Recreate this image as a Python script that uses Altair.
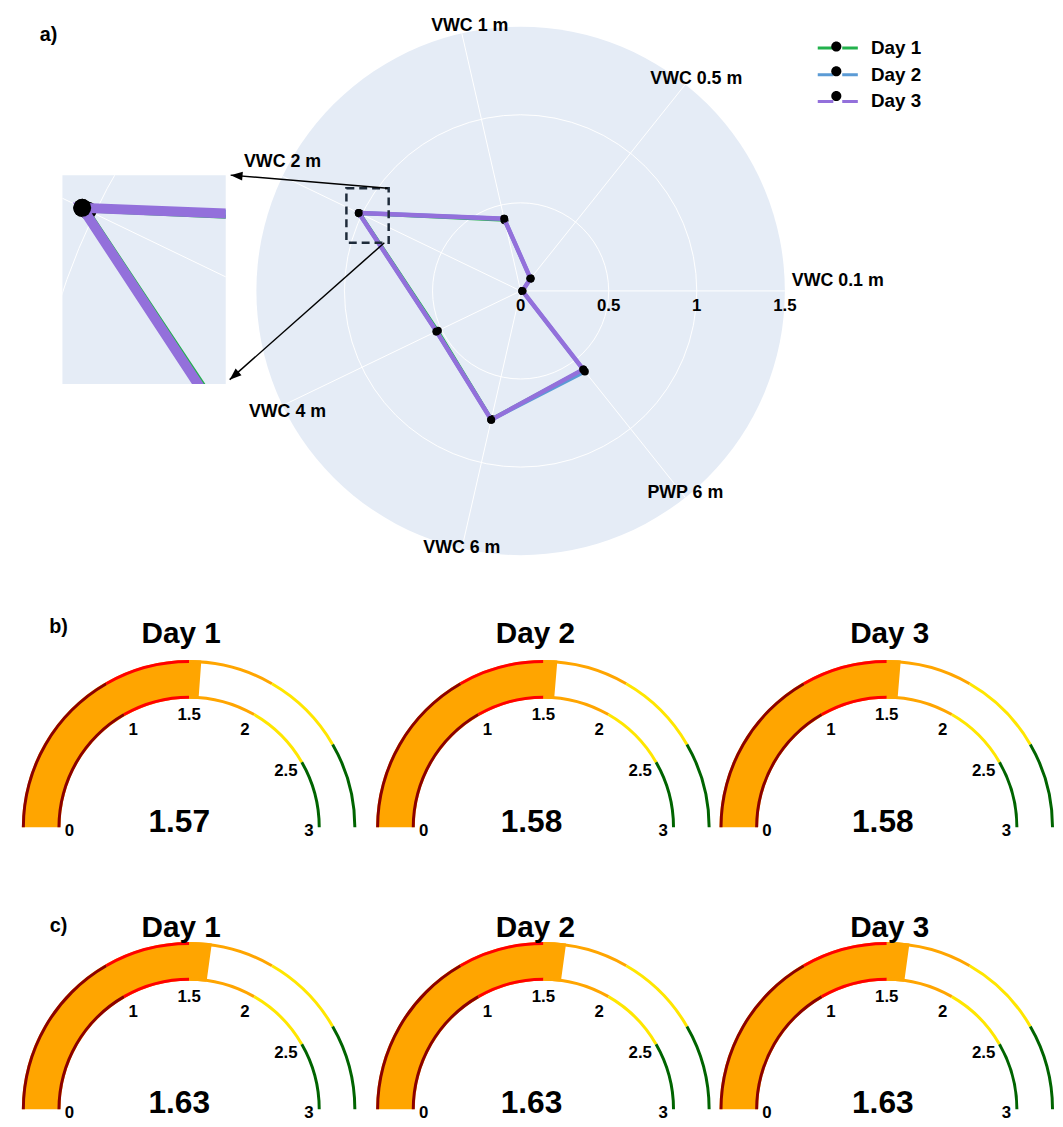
import math
import pandas as pd
import altair as alt

FONT = "Liberation Sans"
TAU = 2 * math.pi

# ---------------- data ----------------
categories = ["VWC 0.1 m", "VWC 0.5 m", "VWC 1 m", "VWC 2 m", "VWC 4 m", "VWC 6 m", "PWP 6 m"]
days = ["Day 1", "Day 2", "Day 3"]
day1_values = [0.01, 0.09, 0.411, 1.011, 0.521, 0.745, 0.57]
day2_values = [0.01, 0.09, 0.42, 1.02, 0.53, 0.75, 0.585]
day3_values = [0.01, 0.09, 0.42, 1.02, 0.53, 0.75, 0.57]
day_colors = ["#22B14C", "#5B9BD5", "#9370DB"]
r_max = 1.5
grid_radii = [0.5, 1.0]
radial_ticks = [0, 0.5, 1, 1.5]
radial_tick_labels = ["0", "0.5", "1", "1.5"]

# zoom box and arrows (polar data units)
box_x1 = [-0.989]
box_y1 = [0.583]
box_x2 = [-0.749]
box_y2 = [0.274]
arrow_x1 = [-0.7545, -0.7736]
arrow_y1 = [0.5826, 0.2736]
arrow_x2 = [-1.6461, -1.6517]
arrow_y2 = [0.6573, -0.5039]

gauge_days = ["Day 1", "Day 2", "Day 3"]
gauge_b_values = [1.57, 1.58, 1.58]
gauge_c_values = [1.63, 1.63, 1.63]
gauge_max = 3
step_bounds = [0, 1, 1.5, 2, 2.5, 3]
step_colors = ["#8B0000", "#FF0000", "#FFA500", "#FFE600", "#006400"]
gauge_ticks = [0, 1, 1.5, 2, 2.5, 3]
gauge_tick_labels = ["0", "1", "1.5", "2", "2.5", "3"]

# label placement styles (align, dx, dy) for the angular labels
LABEL_STYLE = {
    "VWC 0.1 m": ("left", 7, -10),
    "VWC 0.5 m": ("center", 11, -5),
    "VWC 1 m": ("center", 8, -7),
    "VWC 2 m": ("center", 0, -14),
    "VWC 4 m": ("center", 5, 7),
    "VWC 6 m": ("center", 0, 0),
    "PWP 6 m": ("center", 0, -4),
}

# ---------------- tables ----------------
n_cat = len(categories)
ANG = f"datum.idx * 2 * PI / {n_cat}"
cat_df = pd.DataFrame({"cat": categories, "idx": list(range(n_cat))})
rows = []
for d, vals in zip(days, [day1_values, day2_values, day3_values]):
    for i, (c, v) in enumerate(zip(categories, vals)):
        rows.append({"day": d, "cat": c, "idx": i, "value": v})
series_df = pd.DataFrame(rows)
box_df = pd.DataFrame({"x1": box_x1, "y1": box_y1, "x2": box_x2, "y2": box_y2})
arrow_df = pd.DataFrame({"x1": arrow_x1, "y1": arrow_y1, "x2": arrow_x2, "y2": arrow_y2})

PX_MAIN = 178.0
INSET_MAG = 3.85

LINE_PATH = "M-1.35,0H-0.3M0.3,0H1.35"
DOT_PATH = "M0.34,0A0.34,0.34,0,1,1,-0.34,0A0.34,0.34,0,1,1,0.34,0Z"
ARROW_PATH = "M0,0L0.9,2.4L-0.9,2.4Z"
LEG_X, LEG_Y = 600, 17


def polar_chart(xdom, ydom, w, h, ppu, clip, widths, pt_size, main):
    xs = alt.Scale(domain=xdom, nice=False, zero=False)
    ys = alt.Scale(domain=ydom, nice=False, zero=False)
    rs = alt.Scale(type="linear", domain=[0, r_max], range=[0, r_max * ppu], nice=False)

    def X(f):
        return alt.X(f, scale=xs, axis=None)

    def Y(f):
        return alt.Y(f, scale=ys, axis=None)

    disc = (
        alt.Chart(pd.DataFrame({"r": [r_max]}))
        .transform_calculate(cx="0", cy="0")
        .mark_arc(fill="#E5ECF6", clip=clip)
        .encode(x=X("cx:Q"), y=Y("cy:Q"), radius=alt.Radius("r:Q", scale=rs, stack=None),
                theta=alt.value(0), theta2=alt.value(TAU))
    )
    grid = (
        alt.Chart(pd.DataFrame({"r": grid_radii}))
        .transform_calculate(cx="0", cy="0")
        .mark_arc(fill="transparent", stroke="white", strokeWidth=1, clip=clip)
        .encode(x=X("cx:Q"), y=Y("cy:Q"), radius=alt.Radius("r:Q", scale=rs, stack=None),
                theta=alt.value(0), theta2=alt.value(TAU))
    )
    spokes = (
        alt.Chart(cat_df)
        .transform_calculate(ang=ANG)
        .transform_calculate(cx="0", cy="0", ex=f"{r_max}*cos(datum.ang)", ey=f"{r_max}*sin(datum.ang)")
        .mark_rule(color="white", strokeWidth=1, clip=clip)
        .encode(x=X("cx:Q"), y=Y("cy:Q"), x2="ex:Q", y2="ey:Q")
    )
    layers = [disc, grid, spokes]

    line_legend = alt.Legend(
        orient="none", legendX=LEG_X, legendY=LEG_Y, title=None,
        symbolType=LINE_PATH, symbolSize=900, symbolStrokeWidth=3,
        labelFont=FONT, labelFontSize=19, labelFontWeight="bold", labelColor="black",
        labelOffset=17, rowPadding=0, padding=0,
    )
    dot_legend = alt.Legend(
        orient="none", legendX=LEG_X, legendY=LEG_Y, title=None,
        symbolType=DOT_PATH, symbolSize=900, symbolStrokeWidth=0,
        labelFont=FONT, labelFontSize=19, labelExpr="''",
        labelOffset=17, rowPadding=0, padding=0,
    )
    for d, col, wdt in zip(days, day_colors, widths):
        base = (
            alt.Chart(series_df)
            .transform_filter(alt.datum.day == d)
            .transform_calculate(ang=ANG)
            .transform_calculate(px="datum.value*cos(datum.ang)", py="datum.value*sin(datum.ang)")
        )
        if main:
            line = base.mark_line(interpolate="linear-closed", strokeWidth=wdt).encode(
                x=X("px:Q"), y=Y("py:Q"),
                color=alt.Color("day:N", scale=alt.Scale(domain=days, range=day_colors), legend=line_legend),
                order="idx:Q",
            )
            pts = base.mark_circle(size=pt_size, opacity=1).encode(
                x=X("px:Q"), y=Y("py:Q"),
                fill=alt.Fill("day:N", scale=alt.Scale(domain=days[::-1], range=["black"] * len(days)),
                              legend=dot_legend),
            )
        else:
            line = base.mark_line(interpolate="linear-closed", strokeWidth=wdt, color=col, clip=clip).encode(
                x=X("px:Q"), y=Y("py:Q"), order="idx:Q",
            )
            pts = base.mark_circle(color="black", size=pt_size, opacity=1, clip=clip).encode(
                x=X("px:Q"), y=Y("py:Q")
            )
        layers += [line, pts]

    if main:
        for cat in categories:
            al, ddx, ddy = LABEL_STYLE[cat]
            lab = (
                alt.Chart(cat_df)
                .transform_filter(alt.datum.cat == cat)
                .transform_calculate(ang=ANG)
                .transform_calculate(tx=f"{r_max}*cos(datum.ang)", ty=f"{r_max}*sin(datum.ang)")
                .mark_text(font=FONT, fontSize=18, fontWeight="bold", color="black",
                           align=al, dx=ddx, dy=ddy)
                .encode(x=X("tx:Q"), y=Y("ty:Q"), text="cat:N")
            )
            layers.append(lab)
        rticks = (
            alt.Chart(pd.DataFrame({"t": radial_ticks, "lab": radial_tick_labels}))
            .transform_calculate(zero="0")
            .mark_text(font=FONT, fontSize=17, fontWeight="bold", color="black", dy=15)
            .encode(x=X("t:Q"), y=Y("zero:Q"), text="lab:N")
        )
        box = (
            alt.Chart(box_df)
            .mark_rect(fill="transparent", stroke="#1E2B3A", strokeWidth=2.5, strokeDash=[8, 5])
            .encode(x=X("x1:Q"), y=Y("y1:Q"), x2="x2:Q", y2="y2:Q")
        )
        arrows = (
            alt.Chart(arrow_df)
            .mark_rule(color="black", strokeWidth=1.5)
            .encode(x=X("x1:Q"), y=Y("y1:Q"), x2="x2:Q", y2="y2:Q")
        )
        heads = (
            alt.Chart(arrow_df)
            .transform_calculate(ang="(atan2(datum.x2 - datum.x1, datum.y2 - datum.y1) * 180 / PI + 360) % 360")
            .mark_point(shape=ARROW_PATH, filled=True, color="black", size=100, opacity=1)
            .encode(x=X("x2:Q"), y=Y("y2:Q"), angle=alt.Angle("ang:Q", scale=None))
        )
        layers += [rticks, box, arrows, heads]
    return alt.layer(*layers).properties(width=w, height=h)


def blank(w, h):
    return (
        alt.Chart(pd.DataFrame({"v": [0]}))
        .mark_rect(opacity=0)
        .encode(x=alt.value(0), x2=alt.value(1), y=alt.value(0), y2=alt.value(1))
        .properties(width=w, height=h)
    )


# ---- main polar (view starts at page x 225, y 8; centre at page 521,287) ----
PW, PH = 830, 592
CX, CY = 296, 279
main_xdom = [-CX / PX_MAIN, (PW - CX) / PX_MAIN]
main_ydom = [-(PH - CY) / PX_MAIN, CY / PX_MAIN]
polar_main = polar_chart(main_xdom, main_ydom, PW, PH, PX_MAIN, False, [3, 4, 4.5], 64, True)

# ---- inset (magnified around the VWC 2 m point) ----
IW, IH = 165, 211
ippu = PX_MAIN * INSET_MAG
ang2 = 3 * TAU / n_cat
xd = day3_values[3] * math.cos(ang2)
yd = day3_values[3] * math.sin(ang2)
inset_xdom = [xd - 20 / ippu, xd + (IW - 20) / ippu]
inset_ydom = [yd - (IH - 33) / ippu, yd + 33 / ippu]
inset = polar_chart(inset_xdom, inset_ydom, IW, IH, ippu, True, [4, 7, 10], 330, False)

a_chart = (
    alt.Chart(pd.DataFrame({"t": ["a)"]}))
    .mark_text(font=FONT, fontSize=20, fontWeight="bold", color="black")
    .encode(text="t:N", x=alt.value(40), y=alt.value(20))
    .properties(width=217, height=160)
)
inset_row = alt.hconcat(blank(52, IH), inset, spacing=0)
left_block = alt.vconcat(a_chart, inset_row, spacing=0)
top_row = (
    alt.hconcat(left_block, polar_main, spacing=0)
    .resolve_scale(color="independent", fill="independent")
    .resolve_legend(color="independent", fill="independent")
)


# ---------------- gauges ----------------
def gauge(day, value, w, gx, gy, h, tx, title_y, vx, val_y, row_label=None, label_y=25):
    th = alt.Scale(domain=[0, gauge_max], range=[-math.pi / 2, math.pi / 2], nice=False, zero=False)
    cx, cy = alt.value(gx), alt.value(gy)
    steps_df = pd.DataFrame({"lo": step_bounds[:-1], "hi": step_bounds[1:], "c": step_colors})
    tick_df = pd.DataFrame({"t": gauge_ticks, "lab": gauge_tick_labels})
    bar = (
        alt.Chart(pd.DataFrame({"lo": [0], "hi": [value]}))
        .mark_arc(innerRadius=130, outerRadius=169, color="#FFA500")
        .encode(theta=alt.Theta("lo:Q", scale=th, stack=None), theta2="hi:Q", x=cx, y=cy)
    )
    outer = (
        alt.Chart(steps_df)
        .mark_arc(innerRadius=166, outerRadius=169)
        .encode(theta=alt.Theta("lo:Q", scale=th, stack=None), theta2="hi:Q",
                color=alt.Color("c:N", scale=None), x=cx, y=cy)
    )
    inner = (
        alt.Chart(steps_df)
        .mark_arc(innerRadius=130, outerRadius=133)
        .encode(theta=alt.Theta("lo:Q", scale=th, stack=None), theta2="hi:Q",
                color=alt.Color("c:N", scale=None), x=cx, y=cy)
    )
    ticks_mid = (
        alt.Chart(tick_df)
        .transform_filter(f"datum.t > 0 && datum.t < {gauge_max}")
        .mark_text(radius=113, font=FONT, fontSize=17, fontWeight="bold", color="black")
        .encode(theta=alt.Theta("t:Q", scale=th, stack=None), text="lab:N", x=cx, y=cy)
    )
    ticks_end = (
        alt.Chart(tick_df)
        .transform_filter(f"datum.t == 0 || datum.t == {gauge_max}")
        .mark_text(radius=121, font=FONT, fontSize=17, fontWeight="bold", color="black", dy=4)
        .encode(theta=alt.Theta("t:Q", scale=th, stack=None), text="lab:N", x=cx, y=cy)
    )
    val = (
        alt.Chart(pd.DataFrame({"v": [f"{value:.2f}"]}))
        .mark_text(font=FONT, fontSize=32, fontWeight="bold", color="black")
        .encode(text="v:N", x=alt.value(vx), y=alt.value(val_y))
    )
    ttl = (
        alt.Chart(pd.DataFrame({"d": [day]}))
        .mark_text(font=FONT, fontSize=30, fontWeight="bold", color="black")
        .encode(text="d:N", x=alt.value(tx), y=alt.value(title_y))
    )
    layers = [bar, outer, inner, ticks_mid, ticks_end, val, ttl]
    if row_label:
        lab = (
            alt.Chart(pd.DataFrame({"l": [row_label]}))
            .mark_text(font=FONT, fontSize=20, fontWeight="bold", color="black")
            .encode(text="l:N", x=alt.value(50), y=alt.value(label_y))
        )
        layers.append(lab)
    return alt.layer(*layers).properties(width=w, height=h)


gauge_w = [351, 351, 345]
gauge_cx = [182, 187, 176]
gauge_tx = [174, 179, 179]
gauge_vx = [172, 175, 172]

row_b = alt.hconcat(
    *[gauge(d, v, gauge_w[i], gauge_cx[i], 227, 290, gauge_tx[i], 32, gauge_vx[i], 222,
            "b)" if i == 0 else None, 25)
      for i, (d, v) in enumerate(zip(gauge_days, gauge_b_values))],
    spacing=0,
)
row_c = alt.hconcat(
    *[gauge(d, v, gauge_w[i], gauge_cx[i], 220, 232, gauge_tx[i], 37, gauge_vx[i], 214,
            "c)" if i == 0 else None, 35)
      for i, (d, v) in enumerate(zip(gauge_days, gauge_c_values))],
    spacing=0,
)

chart = (
    alt.vconcat(top_row, row_b, row_c, spacing=0)
    .resolve_scale(color="independent", fill="independent")
    .resolve_legend(color="independent", fill="independent")
    .properties(padding=0)
    .configure(font=FONT)
    .configure_view(stroke="transparent")
)

chart.save("out.html", embed_options={"renderer": "svg", "actions": False})
